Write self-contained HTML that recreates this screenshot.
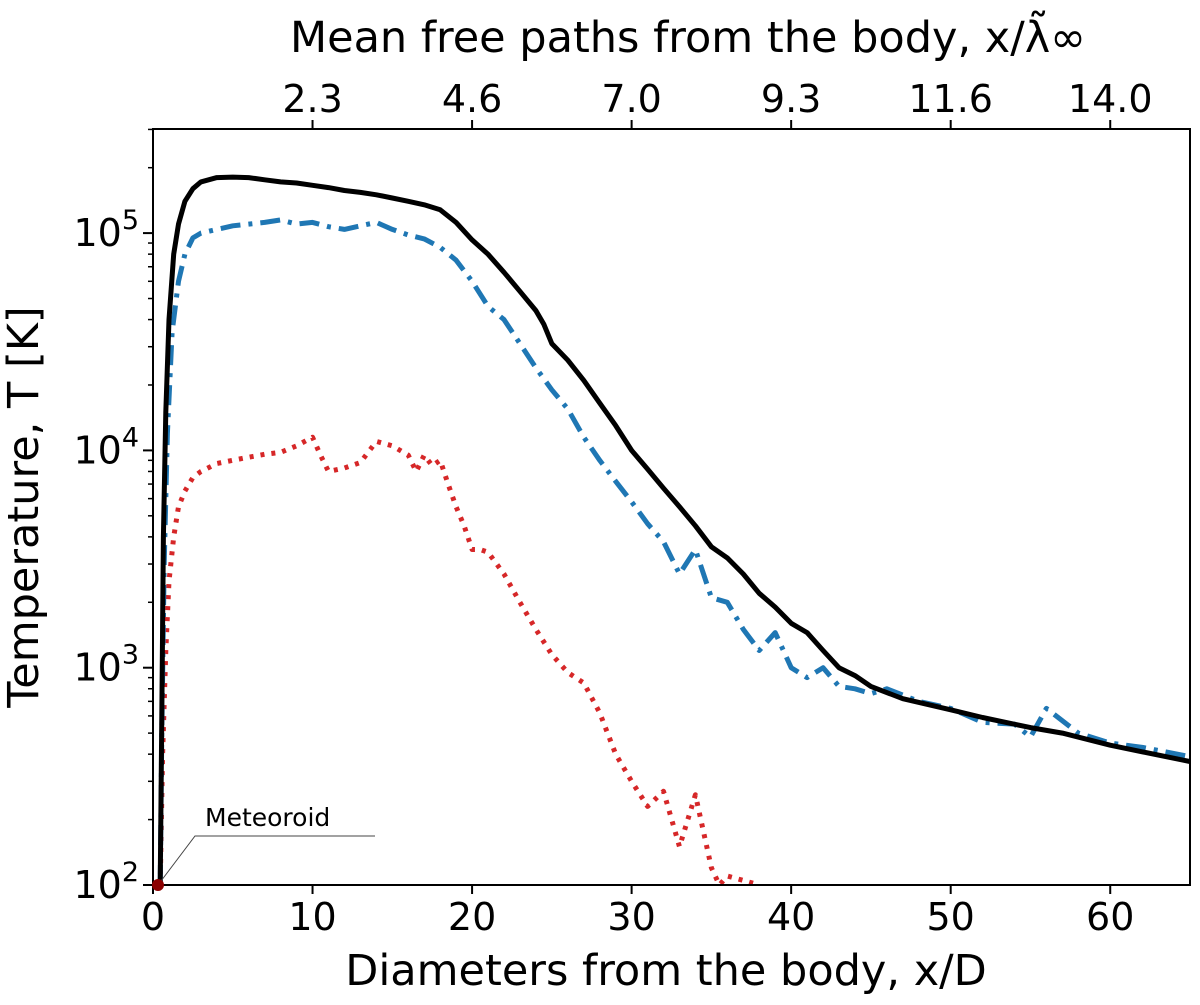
<!DOCTYPE html>
<html><head><meta charset="utf-8"><style>
html,body{margin:0;padding:0;background:#fff;}
svg{display:block;font-family:"DejaVu Sans","Liberation Sans",sans-serif;}
</style></head><body>
<svg id="chart" width="1200" height="1005" viewBox="0 0 1200 1005" xmlns="http://www.w3.org/2000/svg"></svg>
<script>
const xTicks=[0,10,20,30,40,50,60];
const topTickPos=[10,20,30,40,50,60];
const topTickLabels=["2.3","4.6","7.0","9.3","11.6","14.0"];
const yDecades=[2,3,4,5];
const blackX=[0.45,0.55,0.65,0.8,1.0,1.3,1.6,2,2.5,3,4,5,6,7,8,9,10,11,12,13,14,15,16,17,18,19,20,21,22,23,24,24.5,25,26,27,28,29,30,31,32,33,34,35,36,37,38,39,40,41,42,43,44,45,47,50,52,55,57,60,62,65];
const blackY=[100,600,4000,15000,40000,80000,110000,140000,160000,172000,180000,181000,180000,176000,172000,170000,166000,162000,157000,154000,150000,145000,140000,135000,128000,112000,93000,80000,66000,54000,44000,38000,31000,26000,21000,16500,13000,10000,8200,6700,5500,4500,3600,3200,2700,2200,1900,1600,1450,1200,1000,920,820,720,640,590,530,500,440,410,370];
const blueX=[0.45,0.55,0.7,0.9,1.2,1.6,2,2.5,3,4,5,6,7,8,9,10,11,12,13,14,15,16,17,18,19,20,21,22,23,24,25,26,27,28,29,30,31,32,33,34,35,36,37,38,39,40,41,42,43,44,45,46,48,50,52,54,55,56,58,60,62,65];
const blueY=[100,500,3000,12000,35000,60000,80000,95000,100000,104000,108000,110000,112000,115000,110000,112000,107000,104000,108000,112000,104000,98000,94000,86000,75000,60000,46000,40000,31000,24000,19000,15500,11500,9000,7200,5800,4600,3800,2700,3500,2100,2000,1500,1200,1450,1000,900,1000,820,800,760,800,700,650,560,550,480,650,500,450,430,390];
const redX=[0.45,0.6,0.8,1,1.3,1.6,2,2.5,3,4,5,6,7,8,9,10,10.5,11,12,13,14,15,16,16.5,17,17.5,18,18.5,19,19.5,20,20.5,21,22,23,24,25,26,27,28,29,30,31,32,33,34,35,35.5,36,37,38];
const redY=[100,400,1200,2500,4000,5500,6500,7500,8000,8700,9000,9300,9600,9800,10500,11500,9500,8000,8300,8800,11000,10500,9500,8000,9500,8500,9000,7000,5500,4500,3500,3500,3400,2700,2000,1500,1150,950,850,620,400,300,230,270,150,260,120,100,110,105,100];

const L=153,R=1190,T=129,B=885;
const X=v=>L+(v/65)*(R-L);
const Y=v=>B-(Math.log10(v)-2)*217.3;
const svg=document.getElementById('chart');
const NS='http://www.w3.org/2000/svg';
function el(tag,attrs,parent){const e=document.createElementNS(NS,tag);for(const k in attrs)e.setAttribute(k,attrs[k]);(parent||svg).appendChild(e);return e;}

const clip=el('clipPath',{id:'pc'});el('rect',{x:L,y:T,width:R-L,height:B-T},clip);
function series(xs,ys,name,stroke,w,dash){
  const d=xs.map((x,i)=>(i?'L':'M')+X(x).toFixed(1)+','+Y(ys[i]).toFixed(1)).join('');
  const p=el('path',{d:d,fill:'none',stroke:stroke,'stroke-width':w,'stroke-dasharray':dash||'none','clip-path':'url(#pc)','stroke-linejoin':'round'});
  
  
}
series(redX,redY,'series-red-dotted','#d62728',5,'4,7');
series(blueX,blueY,'series-blue-dashdot','#1f77b4',5,'20,8,4,8');
series(blackX,blackY,'series-black-solid','#000',5,null);

const fr=el('rect',{x:L,y:T,width:R-L,height:B-T,fill:'none',stroke:'#000','stroke-width':2});


xTicks.forEach(v=>{
  el('line',{x1:X(v),x2:X(v),y1:B,y2:B+9,stroke:'#000','stroke-width':2});
  const t=el('text',{x:X(v),y:B+45,'text-anchor':'middle','font-size':38});t.textContent=v;
  
});
topTickPos.forEach((v,i)=>{
  el('line',{x1:X(v),x2:X(v),y1:T,y2:T-9,stroke:'#000','stroke-width':2});
  const t=el('text',{x:X(v),y:T-17,'text-anchor':'middle','font-size':38});t.textContent=topTickLabels[i];
  
});
yDecades.forEach(d=>{
  const y=Y(Math.pow(10,d));
  el('line',{x1:L,x2:L-10,y1:y,y2:y,stroke:'#000','stroke-width':2});
  const t=el('text',{x:L-14,y:y+13,'text-anchor':'end','font-size':38});
  t.textContent='10';
  const s=el('tspan',{dy:-17,'font-size':27},t);s.textContent=d;
  
});
for(let d=2;d<=5;d++)for(let m=2;m<=9;m++){
  const v=m*Math.pow(10,d);const y=Y(v);if(y<T)continue;
  el('line',{x1:L,x2:L-5,y1:y,y2:y,stroke:'#000','stroke-width':1.5});
}
let t=el('text',{x:666,y:985,'text-anchor':'middle','font-size':43});t.textContent='Diameters from the body, x/D';

t=el('text',{x:688,y:52,'text-anchor':'middle','font-size':43});t.textContent='Mean free paths from the body, x/λ̃∞';

t=el('text',{x:0,y:0,'text-anchor':'middle','font-size':43,transform:'translate(38,507) rotate(-90)'});t.textContent='Temperature, T [K]';

el('polyline',{points:'158,885 195,836 375,836',fill:'none',stroke:'#444','stroke-width':1});
const dot=el('circle',{cx:158,cy:885,r:6,fill:'#8b0000'});

t=el('text',{x:205,y:826,'font-size':25});t.textContent='Meteoroid';

</script>
</body></html>
